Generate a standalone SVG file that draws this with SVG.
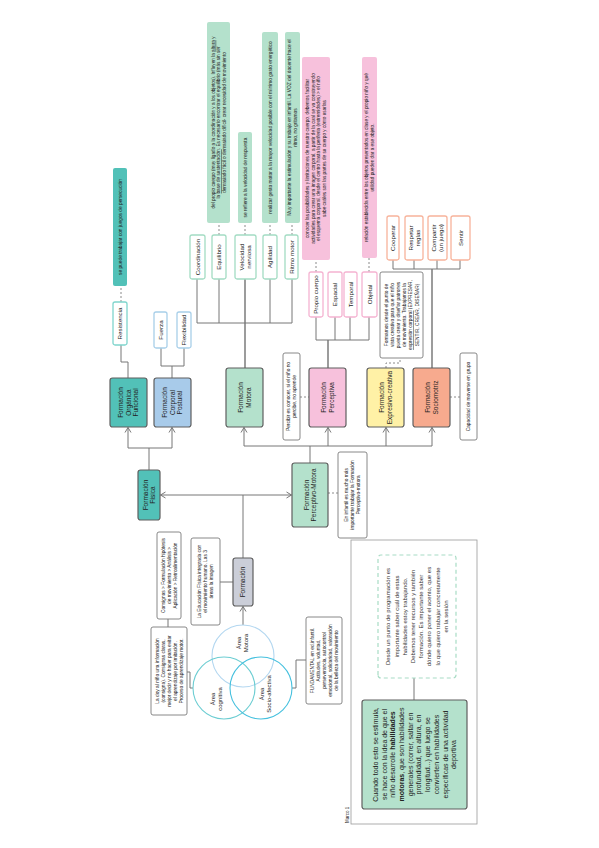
<svg xmlns="http://www.w3.org/2000/svg" width="599" height="848" viewBox="0 0 599 848">
<style>
text{font-family:"Liberation Sans",Arial,sans-serif;fill:#222;text-anchor:middle}
.m rect{stroke:#5f5f5f;stroke-width:1.2}
.m text{font-size:6.5px}
.s rect{fill:#fff;stroke-width:1.3}
.s text{font-size:6.2px}
.n rect{fill:#fff;stroke:#7a7a7a;stroke-width:0.9}
.n text{font-size:4.8px}
.c text{font-size:4.8px}
.c rect{stroke:none}
.ln{fill:none;stroke:#777;stroke-width:1}
.tk{fill:none;stroke:#5a5a5a;stroke-width:1.2}
.dl{fill:none;stroke:#8a8a8a;stroke-width:1;stroke-dasharray:2,2}
.tl rect{fill:#52c1b8}.gr rect{fill:#b4e1cc}.pk rect{fill:#f7c1dc}
.gs rect{stroke:#a3dcc3}.ps rect{stroke:#f5b3d1}.ss rect{stroke:#f7b39b}.bs rect{stroke:#a8cfe9}
</style>
<defs>
<marker id="ah" markerWidth="8" markerHeight="8" refX="6" refY="4" orient="auto" markerUnits="userSpaceOnUse"><path d="M1,1 L6,4 L1,7" fill="none" stroke="#777" stroke-width="1"/></marker>
</defs>
<rect width="599" height="848" fill="#fff"/>

<g id="connectors">
<path class="ln" d="M149,470 V448 M128,448 H172"/>
<path class="ln" d="M128,448 V427.5" marker-end="url(#ah)"/>
<path class="ln" d="M172,448 V427.5" marker-end="url(#ah)"/>
<path class="ln" d="M243,558 V495"/>
<path class="ln" d="M243,495 H160.5" marker-end="url(#ah)"/>
<path class="ln" d="M243,495 H291.5" marker-end="url(#ah)"/>
<path class="ln" d="M310,463 V446 M244,446 H432"/>
<path class="ln" d="M244,446 V427.5" marker-end="url(#ah)"/>
<path class="ln" d="M328,446 V427.5" marker-end="url(#ah)"/>
<path class="ln" d="M386,446 V427.5" marker-end="url(#ah)"/>
<path class="ln" d="M432,446 V427.5" marker-end="url(#ah)"/>
<path class="ln" d="M243,625 V606.5" marker-end="url(#ah)"/>
<path class="ln" d="M128,378 V362 H121 V345"/>
<path class="ln" d="M172,378 V366 M161,366 H184 M161,366 V348 M184,366 V348"/>
<path class="tk" d="M245,368 V279"/>
<path class="ln" d="M197,323 H292 M197,323 V279 M219,323 V279 M270,323 V279 M292,323 V279"/>
<path class="tk" d="M328,368 V340"/>
<path class="ln" d="M316,340 H369 M316,340 V317 M335,340 V317 M350,340 V317 M369,340 V317"/>
<path class="tk" d="M432,368 V269"/>
<path class="ln" d="M393,269 H460 M393,269 V260 M414,269 V260 M437,269 V260 M460,269 V260"/>
<path class="dl" d="M121,302 V286 M219,235 V223 M245,235 V223 M270,235 V223 M292,235 V223 M316,272 V260 M369,272 V258 M300,397 H309 M450,397 H460 M386,368 V363 H400 V358 M328,493 H338"/>
<path class="ln" d="M220,582 H233 M168,619 V627 M187,672 H190 V688 H193 M292,688 H296 V660 H306 M414,678 V700"/>
</g>

<rect x="351" y="540" width="126" height="284" fill="none" stroke="#9a9a9a" stroke-width="0.8"/>
<text transform="translate(349,823) rotate(-90)" style="font-size:4.5px;text-anchor:start">Marco 1</text>

<g id="organica" class="m tl" transform="translate(110,427) rotate(-90)"><rect width="49" height="37" rx="2.5"/><text x="24.5"><tspan x="24.5" y="13.3">Formación</tspan><tspan x="24.5" y="20.8">Orgánica</tspan><tspan x="24.5" y="28.3">Funcional</tspan></text></g>
<g id="corporal" class="m" transform="translate(154,427) rotate(-90)"><rect width="49" height="37" rx="2.5" fill="#a8cbea"/><text><tspan x="24.5" y="13.3">Formación</tspan><tspan x="24.5" y="20.8">Corporal</tspan><tspan x="24.5" y="28.3">Postural</tspan></text></g>
<g id="motora" class="m gr" transform="translate(226,427) rotate(-90)"><rect width="59" height="37" rx="2.5"/><text><tspan x="29.5" y="17">Formación</tspan><tspan x="29.5" y="24.5">Motora</tspan></text></g>
<g id="perceptiva" class="m pk" transform="translate(309,427) rotate(-90)"><rect width="59" height="37" rx="2.5"/><text><tspan x="29.5" y="17">Formación</tspan><tspan x="29.5" y="24.5">Perceptiva</tspan></text></g>
<g id="expresivo" class="m" transform="translate(367,427) rotate(-90)"><rect width="59" height="37" rx="2.5" fill="#fff1a6"/><text><tspan x="29.5" y="17">Formación</tspan><tspan x="29.5" y="24.5">Expresivo-creativa</tspan></text></g>
<g id="sociomotriz" class="m" transform="translate(413,427) rotate(-90)"><rect width="59" height="37" rx="2.5" fill="#f7aa8e"/><text><tspan x="29.5" y="17">Formación</tspan><tspan x="29.5" y="24.5">Sociomotriz</tspan></text></g>
<g id="fisica" class="m tl" transform="translate(138,520) rotate(-90)"><rect width="50" height="22" rx="2.5"/><text><tspan x="25" y="9.5">Formación</tspan><tspan x="25" y="17">Física</tspan></text></g>
<g id="perceptivo-motora" class="m gr" transform="translate(292,527) rotate(-90)"><rect width="64" height="36" rx="2.5"/><text><tspan x="32" y="16.5">Formación</tspan><tspan x="32" y="24">Perceptivo-Motora</tspan></text></g>
<g id="formacion" class="m" transform="translate(233,606) rotate(-90)"><rect width="48" height="20" rx="2.5" fill="#cbced8"/><text x="24" y="12.3">Formación</text></g>

<g id="resistencia" class="s" transform="translate(113,345) rotate(-90)"><rect width="43" height="14" rx="2" stroke="#7fd5cd"/><text x="21.5" y="9.2">Resistencia</text></g>
<g id="fuerza" class="s bs" transform="translate(154,348) rotate(-90)"><rect width="36" height="13" rx="2"/><text x="18" y="8.7">Fuerza</text></g>
<g id="flexibilidad" class="s bs" transform="translate(177,348) rotate(-90)"><rect width="36" height="14" rx="2"/><text x="18" y="9.2">Flexibilidad</text></g>
<g id="coordinacion" class="s gs" transform="translate(190,279) rotate(-90)"><rect width="44" height="15" rx="2"/><text x="22" y="9.7">Coordinación</text></g>
<g id="equilibrio" class="s gs" transform="translate(212,279) rotate(-90)"><rect width="44" height="14" rx="2"/><text x="22" y="9.2">Equilibrio</text></g>
<g id="velocidad" class="s gs" transform="translate(235,279) rotate(-90)"><rect width="44" height="21" rx="2"/><text><tspan x="22" y="9.4">Velocidad</tspan><tspan x="22" y="16">nerviosa</tspan></text></g>
<g id="agilidad" class="s gs" transform="translate(263,279) rotate(-90)"><rect width="44" height="14" rx="2"/><text x="22" y="9.2">Agilidad</text></g>
<g id="ritmo" class="s gs" transform="translate(285,279) rotate(-90)"><rect width="44" height="13" rx="2"/><text x="22" y="8.7">Ritmo motor</text></g>
<g id="propio" class="s ps" transform="translate(309,317) rotate(-90)"><rect width="45" height="14" rx="2"/><text x="22.5" y="9.2">Propio cuerpo</text></g>
<g id="espacial" class="s ps" transform="translate(328,317) rotate(-90)"><rect width="45" height="14" rx="2"/><text x="22.5" y="9.2">Espacial</text></g>
<g id="temporal" class="s ps" transform="translate(344,317) rotate(-90)"><rect width="45" height="13" rx="2"/><text x="22.5" y="8.7">Temporal</text></g>
<g id="objetal" class="s ps" transform="translate(362,317) rotate(-90)"><rect width="45" height="15" rx="2"/><text x="22.5" y="9.7">Objetal</text></g>
<g id="cooperar" class="s ss" transform="translate(387,260) rotate(-90)"><rect width="44" height="12" rx="2"/><text x="22" y="8.2">Cooperar</text></g>
<g id="respetar" class="s ss" transform="translate(405,260) rotate(-90)"><rect width="44" height="18" rx="2"/><text><tspan x="22" y="7.9">Respetar</tspan><tspan x="22" y="14.5">reglas</tspan></text></g>
<g id="compartir" class="s ss" transform="translate(428,260) rotate(-90)"><rect width="44" height="19" rx="2"/><text><tspan x="22" y="8.4">Compartir</tspan><tspan x="22" y="15">(un juego)</tspan></text></g>
<g id="sentir" class="s ss" transform="translate(451,260) rotate(-90)"><rect width="44" height="19" rx="2"/><text x="22" y="11.7">Sentir</text></g>

<g id="nota-resistencia" class="c tl" transform="translate(113,286) rotate(-90)"><rect width="118" height="14" rx="2"/><text x="59" y="8.7">se puede trabajar con juegos de persecución</text></g>
<g id="nota-equilibrio" class="c gr" transform="translate(207,223) rotate(-90)"><rect width="201" height="23" rx="2"/><text style="font-size:4.7px"><tspan x="100.5" y="7.7">del propio cuerpo (muy ligado a la coordinación y a los objetos). Influyen la <tspan text-decoration="underline">altura</tspan> y</tspan><tspan x="100.5" y="13.3">la <tspan text-decoration="underline">base de sustentación</tspan>. Es necesario encontrar el equilibrio (más sin ser</tspan><tspan x="100.5" y="18.9">demasiado fácil o demasiado difícil- crear necesidad de movimiento</tspan></text></g>
<g id="nota-velocidad" class="c gr" transform="translate(238,223) rotate(-90)"><rect width="91" height="14" rx="2"/><text x="45.5" y="8.7">se refiere a la velocidad de respuesta</text></g>
<g id="nota-agilidad" class="c gr" transform="translate(262,223) rotate(-90)"><rect width="191" height="16" rx="2"/><text x="95.5" y="9.7">realizar gesto motor a la mayor velocidad posible con el mínimo gasto energético</text></g>
<g id="nota-ritmo" class="c gr" transform="translate(285,223) rotate(-90)"><rect width="191" height="15" rx="2"/><text><tspan x="95.5" y="6.4">Muy importante la estimulación y su trabajo en infantil. La VOZ del docente hace el</tspan><tspan x="95.5" y="12">ritmo, no gritamos</tspan></text></g>
<g id="nota-propio" class="c pk" transform="translate(302,260) rotate(-90)"><rect width="203" height="28" rx="2"/><text style="font-size:4.7px"><tspan x="101.5" y="7.4">conocer las posibilidades y limitaciones de nuestro cuerpo, debemos facilitar</tspan><tspan x="101.5" y="12.9">actividades para crear una imagen corporal, a partir de la cual se va construyendo</tspan><tspan x="101.5" y="18.4">el esquema corporal, desde el centro hasta la periferia (extremidades) &gt; el niño</tspan><tspan x="101.5" y="23.9">sabe cuáles son las partes de su cuerpo y cómo usarlas</tspan></text></g>
<g id="nota-objetal" class="c pk" transform="translate(362,258) rotate(-90)"><rect width="201" height="15" rx="2"/><text style="font-size:4.7px"><tspan x="100.5" y="6.4">relación establecida entre los objetos presentados en clase y el propio niño y qué</tspan><tspan x="100.5" y="12">utilidad pueden dar a ese objeto.</tspan></text></g>

<g id="nota-perceptiva" class="n" transform="translate(283,440) rotate(-90)"><rect width="87" height="17" rx="2"/><text><tspan x="43.5" y="7.4">Percibir es conocer, si el niño no</tspan><tspan x="43.5" y="13">percibe, no aprende</tspan></text></g>
<g id="nota-sociomotriz" class="n" transform="translate(460,440) rotate(-90)"><rect width="87" height="17" rx="2"/><text x="43.5" y="10.2">Capacidad de moverse en grupo</text></g>
<g id="nota-expresivo" class="n" transform="translate(380,358) rotate(-90)"><rect width="86" height="43" rx="2"/><text style="font-size:4.8px"><tspan x="43" y="7.6">Formamos desde el punto de</tspan><tspan x="43" y="13.8">vista creativo para que el niño</tspan><tspan x="43" y="20">pueda crear y diseñar patrones</tspan><tspan x="43" y="26.2">de movimiento. Trabajamos la</tspan><tspan x="43" y="32.4"><tspan text-decoration="underline">expresión corporal</tspan> (EXPRESAR,</tspan><tspan x="43" y="38.6">SENTIR, CREAR, DISEÑAR)</tspan></text></g>
<g id="nota-perceptivo-motora" class="n" transform="translate(338,538) rotate(-90)"><rect width="86" height="29" rx="2"/><text><tspan x="43" y="10.2">En infantil es mucho más</tspan><tspan x="43" y="16.2">importante trabajar la Formación</tspan><tspan x="43" y="22.2">Perceptivo-motora</tspan></text></g>
<g id="nota-educacion" class="n" transform="translate(191,625) rotate(-90)"><rect width="87" height="29" rx="2"/><text><tspan x="43.5" y="10.2">La Educación Física integrada con</tspan><tspan x="43.5" y="16.2">el movimiento humano. Las 3</tspan><tspan x="43.5" y="22.2">áreas la imagen</tspan></text></g>
<g id="nota-consignas" class="n" transform="translate(157,619) rotate(-90)"><rect width="87" height="24" rx="2"/><text><tspan x="43.5" y="7.7">Consignas &gt; Formulación hipótesis</tspan><tspan x="43.5" y="13.7">de movimiento &gt; Análisis &gt;</tspan><tspan x="43.5" y="19.7">Aplicación &gt; Retroalimentación</tspan></text></g>
<g id="nota-consigna" class="n" transform="translate(151,715) rotate(-90)"><rect width="88" height="36" rx="2"/><text><tspan x="44" y="7.7">La doy al niño una información</tspan><tspan x="44" y="13.7">(consigna). Consignas claras,</tspan><tspan x="44" y="19.7">mejor decir y no hacer para evitar</tspan><tspan x="44" y="25.7">el aprendizaje por imitación.</tspan><tspan x="44" y="31.7">Proceso de aprendizaje motor.</tspan></text></g>
<g id="nota-fundamental" class="n" transform="translate(306,704) rotate(-90)"><rect width="87" height="36" rx="2"/><text><tspan x="43.5" y="7.7">FUNDAMENTAL en ed.infantil.</tspan><tspan x="43.5" y="13.7">Actitudes, voluntad,</tspan><tspan x="43.5" y="19.7">perseverancia, autocontrol</tspan><tspan x="43.5" y="25.7">emocional, solidaridad, valoración</tspan><tspan x="43.5" y="31.7">de la belleza del movimiento</tspan></text></g>

<g id="areas">
<circle cx="243" cy="656" r="31" fill="none" stroke="#b3d7f0" stroke-width="1.1"/>
<circle cx="224" cy="688" r="31" fill="none" stroke="#6ccdd2" stroke-width="1.1"/>
<circle cx="261" cy="688" r="31" fill="none" stroke="#45c0de" stroke-width="1.1"/>
<text transform="translate(242,643) rotate(-90)" style="font-size:6px"><tspan x="0" y="-1.4">Área</tspan><tspan x="0" y="5.6">Motora</tspan></text>
<text transform="translate(216,699) rotate(-90)" style="font-size:6px"><tspan x="0" y="-1.4">Área</tspan><tspan x="0" y="5.6">cognitiva</tspan></text>
<text transform="translate(265,694) rotate(-90)" style="font-size:6px"><tspan x="0" y="-1.4">Área</tspan><tspan x="0" y="5.6">Socio-afectiva</tspan></text>
</g>

<g id="nota-programacion" transform="translate(378,678) rotate(-90)"><rect width="123" height="78" rx="3" fill="#fff" stroke="#a8dcc5" stroke-width="1.2" stroke-dasharray="4,3"/><text style="font-size:6px;fill:#333"><tspan x="61.5" y="12.4">Desde un punto de programación es</tspan><tspan x="61.5" y="20.6">importante saber cuál de estas</tspan><tspan x="61.5" y="28.8">habilidades estoy trabajando.</tspan><tspan x="61.5" y="37">Debemos tener recursos y también</tspan><tspan x="61.5" y="45.2">formación. Es importante saber</tspan><tspan x="61.5" y="53.4">dónde quiero poner el acento, que es</tspan><tspan x="61.5" y="61.6">lo que quiero trabajar concretamente</tspan><tspan x="61.5" y="69.8">en la sesión</tspan></text></g>

<g id="nota-habilidades" transform="translate(362,809) rotate(-90)"><rect width="109" height="105" rx="2.5" fill="#b4e1cc" stroke="#5f5f5f" stroke-width="1.2"/><text style="font-size:7px"><tspan x="54.5" y="15.9">Cuando todo esto se estimula,</tspan><tspan x="54.5" y="24.6">se hace con la idea de que el</tspan><tspan x="54.5" y="33.3">niño desarrolle <tspan font-weight="bold">habilidades</tspan></tspan><tspan x="54.5" y="42"><tspan font-weight="bold">motoras</tspan>, que son habilidades</tspan><tspan x="54.5" y="50.7">generales (correr, saltar en</tspan><tspan x="54.5" y="59.4">profundidad, en altura, en</tspan><tspan x="54.5" y="68.1">longitud...) que luego se</tspan><tspan x="54.5" y="76.8">convierten en habilidades</tspan><tspan x="54.5" y="85.5">específicas de una actividad</tspan><tspan x="54.5" y="94.2">deportiva</tspan></text></g>
</svg>
